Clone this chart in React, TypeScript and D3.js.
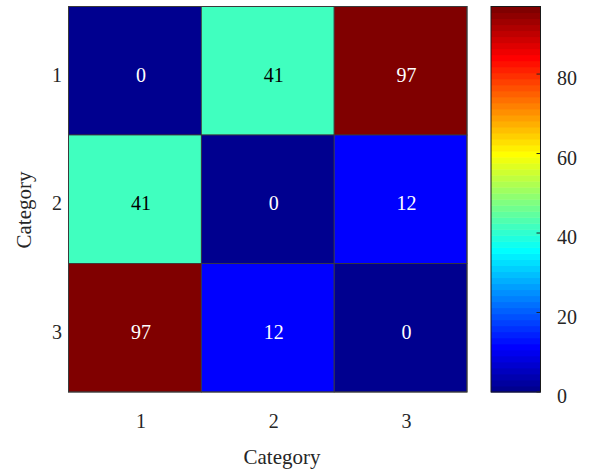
import React from "react";
import * as d3 from "d3";

// Category labels and matrix of pairwise values
const rowLabels = ["1", "2", "3"];
const colLabels = ["1", "2", "3"];
const row1 = [0, 41, 97];
const row2 = [41, 0, 12];
const row3 = [97, 12, 0];
const matrix = [row1, row2, row3];
const colorTicks = [0, 20, 40, 60, 80];
const colorMin = 0;
const colorMax = 97;

// MATLAB-style jet colormap with m discrete levels
function jetMap(m: number): string[] {
  const n = Math.ceil(m / 4);
  const u: number[] = [];
  for (let i = 1; i <= n; i++) u.push(i / n);
  for (let i = 1; i < n; i++) u.push(1);
  for (let i = n; i >= 1; i--) u.push(i / n);
  const g0 = Math.ceil(n / 2) - (m % 4 === 1 ? 1 : 0);
  const J = Array.from({ length: m }, () => [0, 0, 0]);
  u.forEach((val, k) => {
    const g = g0 + k + 1;
    const r = g + n;
    const b = g - n;
    if (r >= 1 && r <= m) J[r - 1][0] = val;
    if (g >= 1 && g <= m) J[g - 1][1] = val;
    if (b >= 1 && b <= m) J[b - 1][2] = val;
  });
  return J.map(([r, g, b]) => d3.rgb(r * 255, g * 255, b * 255).formatHex());
}

const LEVELS = 64;
const jet = jetMap(LEVELS);

function colorFor(v: number): string {
  let idx = Math.floor(((v - colorMin) / (colorMax - colorMin)) * LEVELS);
  idx = Math.max(0, Math.min(LEVELS - 1, idx));
  return jet[idx];
}

const W = 590;
const H = 471;
const plot = { left: 68.5, top: 6.5, right: 467, bottom: 392 };
const bar = { left: 491, right: 540.5 };
const font = "'Liberation Serif', 'Times New Roman', serif";
const numSize = 20;
const labelSize = 21;
// text is drawn slightly right of and below the geometric centre
const textDx = 6;
const baseShift = 11;

export default function App() {
  const x = d3
    .scaleBand<string>()
    .domain(colLabels)
    .range([plot.left, plot.right]);
  const y = d3
    .scaleBand<string>()
    .domain(rowLabels)
    .range([plot.top, plot.bottom]);
  const cy = d3
    .scaleLinear()
    .domain([colorMin, colorMax])
    .range([plot.bottom, plot.top]);

  const bandValues = d3.range(LEVELS);
  const step = (colorMax - colorMin) / LEVELS;

  return (
    <svg
      width={W}
      height={H}
      style={{ position: "absolute", left: 0, top: 0, background: "#fff", fontFamily: font }}
    >
      {matrix.map((rowVals, ri) =>
        rowVals.map((v, ci) => {
          const c = colorFor(v);
          const textColor = d3.lab(c).l > 70 ? "#000" : "#fff";
          return (
            <g key={`${ri}-${ci}`}>
              <rect
                x={x(colLabels[ci])}
                y={y(rowLabels[ri])}
                width={x.bandwidth()}
                height={y.bandwidth()}
                fill={c}
                stroke="#3a3a3a"
                strokeWidth={0.8}
              />
              <text
                x={(x(colLabels[ci]) as number) + x.bandwidth() / 2 + textDx}
                y={(y(rowLabels[ri]) as number) + y.bandwidth() / 2 + baseShift}
                textAnchor="middle"
                fontSize={numSize}
                fontFamily={font}
                fill={textColor}
              >
                {v}
              </text>
            </g>
          );
        })
      )}
      <rect
        x={plot.left}
        y={plot.top}
        width={plot.right - plot.left}
        height={plot.bottom - plot.top}
        fill="none"
        stroke="#3a3a3a"
        strokeWidth={1}
      />

      {rowLabels.map((r) => (
        <text
          key={`yl-${r}`}
          x={62}
          y={(y(r) as number) + y.bandwidth() / 2 + baseShift}
          textAnchor="end"
          fontSize={numSize}
          fontFamily={font}
          fill="#262626"
        >
          {r}
        </text>
      ))}
      {colLabels.map((c) => (
        <text
          key={`xl-${c}`}
          x={(x(c) as number) + x.bandwidth() / 2 + textDx}
          y={428}
          textAnchor="middle"
          fontSize={numSize}
          fontFamily={font}
          fill="#262626"
        >
          {c}
        </text>
      ))}
      <text
        x={282}
        y={464}
        textAnchor="middle"
        fontSize={labelSize}
        fontFamily={font}
        fill="#262626"
      >
        Category
      </text>
      <text
        transform={`translate(31, 210) rotate(-90)`}
        textAnchor="middle"
        fontSize={labelSize}
        fontFamily={font}
        fill="#262626"
      >
        Category
      </text>

      {/* colorbar */}
      {bandValues.map((i) => {
        const v0 = colorMin + i * step;
        const v1 = v0 + step;
        return (
          <rect
            key={`cb-${i}`}
            x={bar.left}
            y={cy(v1)}
            width={bar.right - bar.left}
            height={cy(v0) - cy(v1) + 0.5}
            fill={jet[i]}
          />
        );
      })}
      <rect
        x={bar.left}
        y={plot.top}
        width={bar.right - bar.left}
        height={plot.bottom - plot.top}
        fill="none"
        stroke="#1a1a1a"
        strokeWidth={1}
      />
      {colorTicks.map((t) => (
        <g key={`ct-${t}`}>
          <line
            x1={bar.right - 4}
            x2={bar.right}
            y1={cy(t)}
            y2={cy(t)}
            stroke="#262626"
            strokeWidth={1}
          />
          <text
            x={557}
            y={cy(t) + baseShift}
            textAnchor="start"
            fontSize={numSize}
            fontFamily={font}
            fill="#262626"
          >
            {t}
          </text>
        </g>
      ))}
    </svg>
  );
}
